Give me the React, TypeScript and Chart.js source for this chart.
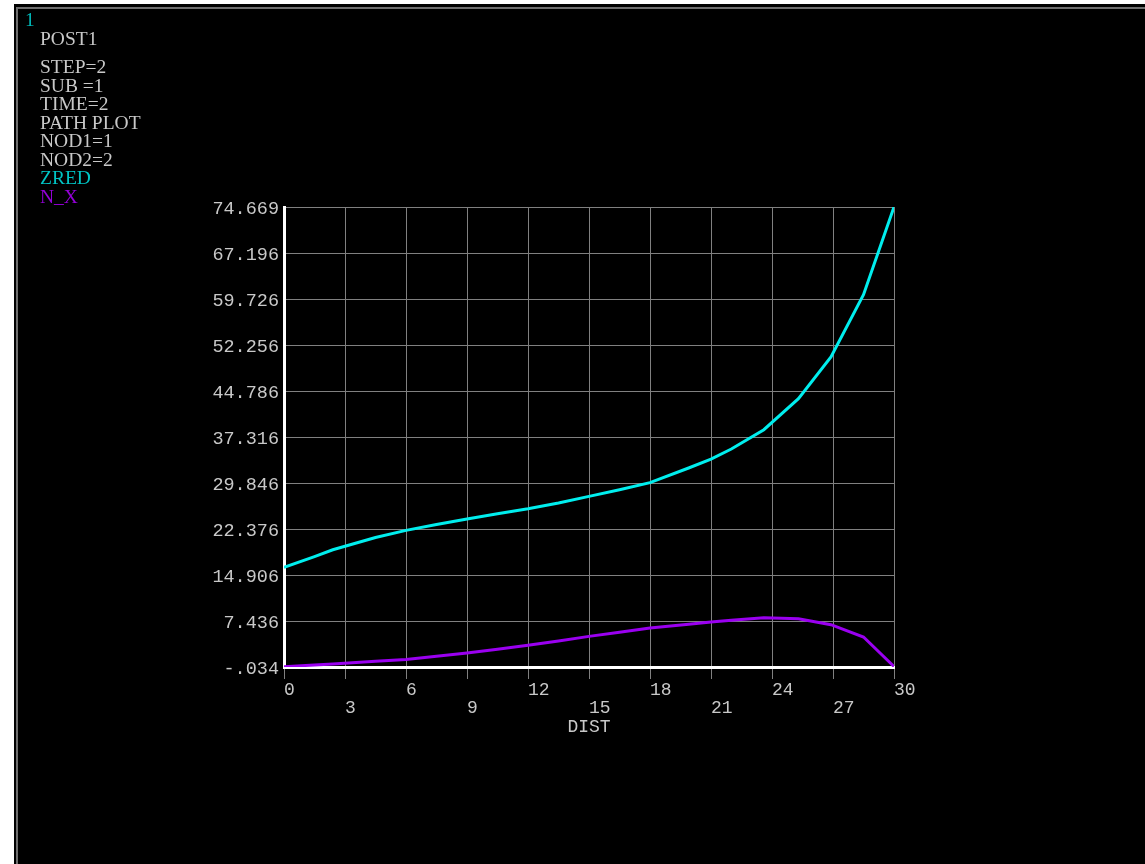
import React, { useEffect, useRef } from 'react';
import { Chart, registerables } from 'chart.js';

Chart.register(...registerables);

// ---- data ----
const DIST = [0, 1.5, 2.4, 4.5, 6, 7.5, 9, 10.5, 12, 13.5, 15, 16.5, 18, 19.9, 21, 22, 23.6, 25.3, 26.9, 28.5, 30];
const ZRED = [16.14, 17.9, 19.0, 21.0, 22.15, 23.1, 24.0, 24.86, 25.67, 26.6, 27.67, 28.76, 29.9, 32.28, 33.74, 35.37, 38.5, 43.54, 50.31, 60.43, 74.669];
const N_X = [0.0, 0.3, 0.45, 0.9, 1.2, 1.7, 2.24, 2.85, 3.48, 4.2, 4.94, 5.6, 6.3, 6.9, 7.28, 7.55, 7.95, 7.81, 6.84, 4.84, 0.05];

const Y_TICKS = [-0.034, 7.436, 14.906, 22.376, 29.846, 37.316, 44.786, 52.256, 59.726, 67.196, 74.669];
const Y_TICK_LABELS = ['-.034', '7.436', '14.906', '22.376', '29.846', '37.316', '44.786', '52.256', '59.726', '67.196', '74.669'];
const X_TICKS = [0, 3, 6, 9, 12, 15, 18, 21, 24, 27, 30];
const X_TITLE = 'DIST';

const WINDOW_NUM = '1';
const INFO_TITLE = 'POST1';
const INFO_LINES = ['STEP=2', 'SUB =1', 'TIME=2', 'PATH PLOT', 'NOD1=1', 'NOD2=2'];
const SERIES_NAMES = ['ZRED', 'N_X'];

// ---- styles ----
const CYAN = '#00eeee';
const PURPLE = '#9a00f0';
const TEXT = '#c8c8c8';
const GRID = '#808080';
const MONO = '"Liberation Mono", "DejaVu Sans Mono", monospace';
const SERIF = '"Liberation Serif", "DejaVu Serif", serif';

const backgroundPlugin = {
  id: 'ansysBackground',
  beforeDraw(chart: any) {
    const { ctx, width, height } = chart;
    ctx.save();
    ctx.fillStyle = '#ffffff';
    ctx.fillRect(0, 0, width, height);
    ctx.fillStyle = '#000000';
    ctx.fillRect(14, 4, width - 14, height - 4);
    ctx.fillStyle = '#6e6e6e';
    ctx.fillRect(16, 7, 2, height - 7);
    ctx.fillRect(16, 7, width - 16, 2);
    ctx.restore();
  },
};

const infoPlugin = {
  id: 'ansysInfo',
  afterDraw(chart: any) {
    const { ctx } = chart;
    ctx.save();
    ctx.font = `19.5px ${SERIF}`;
    ctx.textBaseline = 'alphabetic';
    ctx.textAlign = 'left';
    ctx.fillStyle = '#00b8b8';
    ctx.fillText(WINDOW_NUM, 25, 26);
    ctx.fillStyle = TEXT;
    ctx.fillText(INFO_TITLE, 40, 45);
    INFO_LINES.forEach((t, i) => ctx.fillText(t, 40, 73 + i * 18.5));
    const base = 73 + INFO_LINES.length * 18.5;
    const colors = ['#00c4c4', '#9400d8'];
    SERIES_NAMES.forEach((t, i) => {
      ctx.fillStyle = colors[i];
      ctx.fillText(t, 40, base + i * 18.5);
    });
    ctx.restore();
  },
};

export default function App() {
  const ref = useRef<HTMLCanvasElement | null>(null);

  useEffect(() => {
    if (!ref.current) return;
    const chart = new Chart(ref.current, {
      type: 'line',
      data: {
        datasets: [
          {
            label: SERIES_NAMES[0],
            data: DIST.map((d, i) => ({ x: d, y: ZRED[i] })),
            borderColor: CYAN,
            borderWidth: 3,
            pointRadius: 0,
            tension: 0,
            fill: false,
          },
          {
            label: SERIES_NAMES[1],
            data: DIST.map((d, i) => ({ x: d, y: N_X[i] })),
            borderColor: PURPLE,
            borderWidth: 3,
            pointRadius: 0,
            tension: 0,
            fill: false,
          },
        ],
      },
      options: {
        animation: false,
        responsive: false,
        devicePixelRatio: 1,
        layout: { padding: { left: 0, right: 251, top: 207, bottom: 0 } },
        plugins: {
          legend: { display: false },
          tooltip: { enabled: false },
          title: { display: false },
        },
        scales: {
          x: {
            type: 'linear',
            min: 0,
            max: 30,
            afterBuildTicks: (scale: any) => {
              scale.ticks = X_TICKS.map((v) => ({ value: v }));
            },
            afterFit: (scale: any) => {
              scale.height = 197;
            },
            grid: { color: GRID, lineWidth: 1, drawTicks: true, tickLength: 12, tickColor: GRID },
            border: { display: true, color: '#ffffff', width: 3 },
            ticks: {
              autoSkip: false,
              maxRotation: 0,
              minRotation: 0,
              align: 'start',
              padding: 2,
              color: TEXT,
              font: { family: MONO, size: 18, lineHeight: 1 },
              callback: (value: any, index: number) =>
                index % 2 === 0 ? String(X_TICKS[index]) : ['', String(X_TICKS[index])],
            },
            title: {
              display: true,
              text: X_TITLE,
              color: TEXT,
              font: { family: MONO, size: 18, lineHeight: 1 },
              padding: { top: 0, bottom: 128 },
            },
          },
          y: {
            type: 'linear',
            min: Y_TICKS[0],
            max: Y_TICKS[Y_TICKS.length - 1],
            afterBuildTicks: (scale: any) => {
              scale.ticks = Y_TICKS.map((v) => ({ value: v }));
            },
            afterFit: (scale: any) => {
              scale.width = 284;
            },
            grid: { color: GRID, lineWidth: 1, drawTicks: false },
            border: { display: true, color: '#ffffff', width: 3 },
            ticks: {
              autoSkip: false,
              padding: 5,
              labelOffset: 2,
              color: TEXT,
              font: { family: MONO, size: 18.5, lineHeight: 1 },
              callback: (value: any, index: number) => Y_TICK_LABELS[index],
            },
          },
        },
      } as any,
      plugins: [backgroundPlugin, infoPlugin],
    });
    return () => chart.destroy();
  }, []);

  return (
    <div style={{ position: 'absolute', left: 0, top: 0, width: 1145, height: 864 }}>
      <canvas ref={ref} width={1145} height={864} style={{ display: 'block', width: 1145, height: 864 }} />
    </div>
  );
}
